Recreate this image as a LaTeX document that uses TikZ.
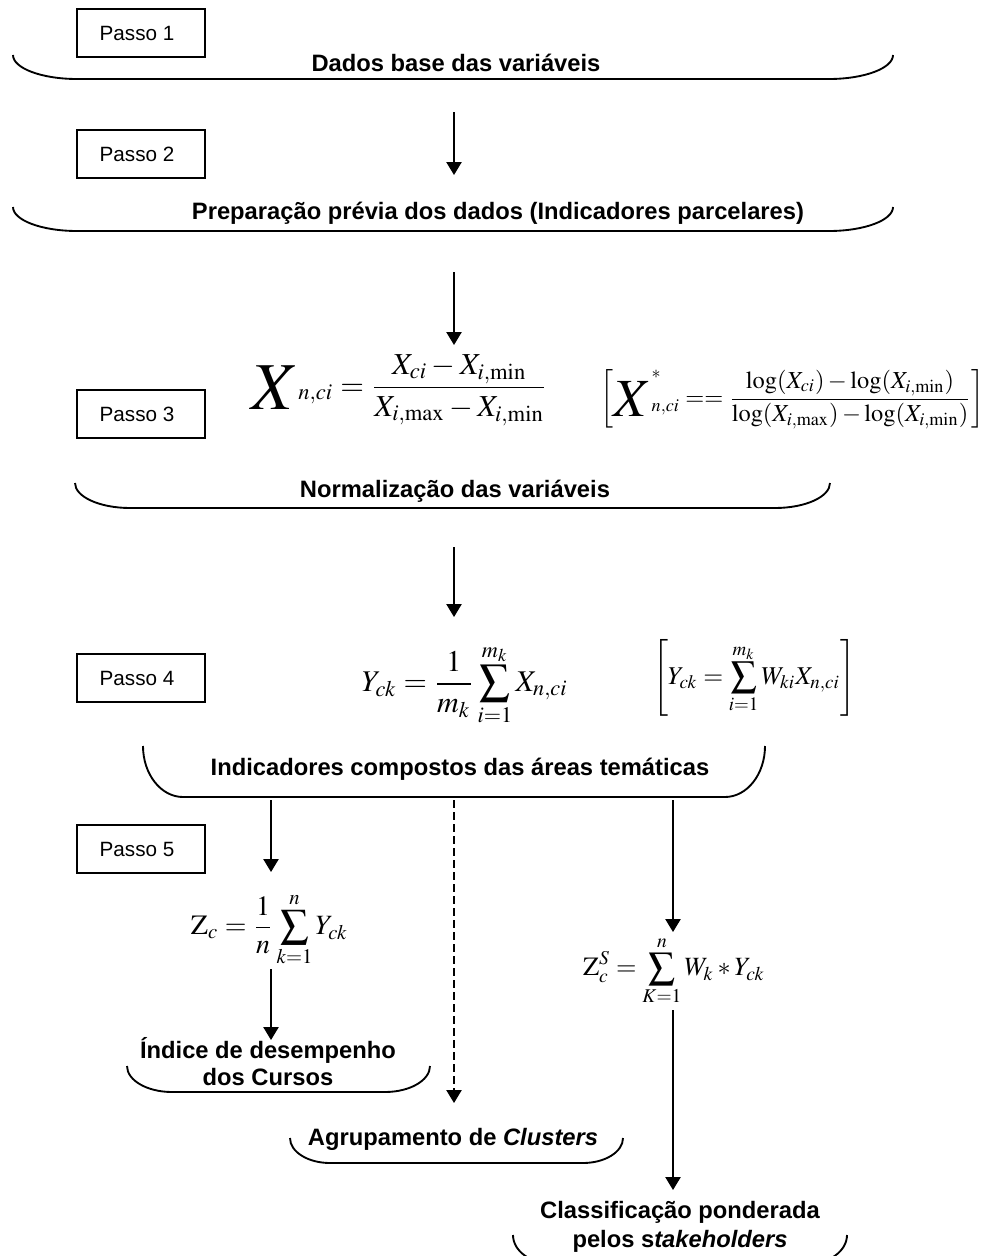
\documentclass[tikz,border=0pt]{standalone}
\usepackage{mathptmx}
\usepackage[no-math]{fontspec}
\usepackage{graphicx}
\usetikzlibrary{arrows.meta}
\newfontfamily\arialfont{Liberation Sans}
\newcommand{\ubrace}[5]{% x1, x2, ytop, ybot, rx
  \draw[bracestyle] (#1,#3) .. controls (#1,{#3+0.552*(#4-#3)}) and ({#1+0.448*#5},#4) .. ({#1+#5},#4)
    -- ({#2-#5},#4) .. controls ({#2-0.448*#5},#4) and (#2,{#3+0.552*(#4-#3)}) .. (#2,#3);}
\newcommand{\bigX}{\raisebox{-4.5pt}{\fontsize{22}{22}\selectfont$X$}}
\begin{document}
\begin{tikzpicture}[x=0.75pt,y=-0.75pt,
  pbox/.style={draw, line width=1.3pt, minimum width=96pt, minimum height=36pt, inner sep=0pt, font=\arialfont\fontsize{15.5}{18}\selectfont},
  lbl/.style={font=\arialfont\bfseries\fontsize{17.8}{21}\selectfont, inner sep=0pt, anchor=base},
  bracestyle/.style={line width=1.4pt},
  arr/.style={line width=1.1pt, -{Triangle[length=9.75pt,width=11.5pt]}},
  formula/.style={inner sep=0pt}]
\path[use as bounding box] (0,0) rectangle (996,1256);
\clip (0,0) rectangle (996,1256);

% Passo boxes
\node[pbox] (p1) at (141,33) {Passo 1\hspace*{6pt}};
\node[pbox] (p2) at (141,154) {Passo 2\hspace*{6pt}};
\node[pbox] (p3) at (141,414) {Passo 3\hspace*{6pt}};
\node[pbox] (p4) at (141,678) {Passo 4\hspace*{6pt}};
\node[pbox] (p5) at (141,849) {Passo 5\hspace*{6pt}};

% braces
\ubrace{13}{893}{55}{79}{64}
\ubrace{13}{893}{207}{231}{64}
\ubrace{75}{830}{483}{508}{55}
\ubrace{143}{765}{746}{797}{40}
\ubrace{127}{430}{1066}{1092}{45}
\ubrace{290}{623}{1138}{1163}{40}
\ubrace{513}{847}{1235}{1264}{40}

% labels
\node[lbl] (t1) at (456,72) {Dados base das variáveis};
\node[lbl] (t2) at (498,219) {Preparação prévia dos dados (Indicadores parcelares)};
\node[lbl] (t3) at (455,497) {Normalização das variáveis};
\node[lbl] (t4) at (460,775) {Indicadores compostos das áreas temáticas};
\node[lbl] (t5a) at (268,1058) {Índice de desempenho};
\node[lbl] (t5b) at (268,1085) {dos Cursos};
\node[lbl] (t6) at (453,1145) {Agrupamento de \itshape Clusters};
\node[lbl] (t7a) at (680,1218) {Classificação ponderada};
\node[lbl] (t7b) at (680,1247) {pelos s\itshape takeholders};

% formulas
\node[formula] (f1) at (399.5,390) {\resizebox{222.75pt}{!}{$\displaystyle \bigX{}_{n,ci}=\frac{X_{ci}-X_{i,\mathrm{min}}}{X_{i,\mathrm{max}}-X_{i,\mathrm{min}}}$}};
\node[formula] (f2) at (792.5,399.5) {\resizebox{287.25pt}{!}{$\displaystyle \left[\bigX{}^{\raisebox{7pt}{$\scriptstyle *$}}_{n,ci}==\frac{\log(X_{ci})-\log(X_{i,\mathrm{min}})}{\log(X_{i,\mathrm{max}})-\log(X_{i,\mathrm{min}})}\right]$}};
\node[formula] (y1) at (465,685) {\resizebox{154.5pt}{!}{$\displaystyle Y_{ck}=\frac{1}{m_k}\sum_{i=1}^{m_k}X_{n,ci}$}};
\node[formula] (y2) at (754,678) {\resizebox{151.5pt}{!}{$\displaystyle \left[Y_{ck}=\sum_{i=1}^{m_k}W_{ki}X_{n,ci}\right]$}};
\node[formula] (zc) at (269.5,930) {\resizebox{117.75pt}{!}{$\displaystyle \mathrm{Z}_c=\frac{1}{n}\sum_{k=1}^{n}Y_{ck}$}};
\node[formula] (zs) at (674,971) {\resizebox{136.5pt}{!}{$\displaystyle \mathrm{Z}_c^S=\sum_{K=1}^{n}W_k*Y_{ck}$}};

% arrow end points
\coordinate (a1s) at (454,112); \coordinate (a1e) at (454,175);
\coordinate (a2s) at (454,272); \coordinate (a2e) at (454,345);
\coordinate (a3s) at (454,547); \coordinate (a3e) at (454,617);
\coordinate (a4s) at (271,800); \coordinate (a4e) at (271,872);
\coordinate (a5s) at (454,800); \coordinate (a5e) at (454,1103);
\coordinate (a6s) at (673,800); \coordinate (a6e) at (673,932);
\coordinate (a7s) at (271,969); \coordinate (a7e) at (271,1040);
\coordinate (a8s) at (673,1010); \coordinate (a8e) at (673,1190);

\draw[arr] (a1s) -- (a1e);
\draw[arr] (a2s) -- (a2e);
\draw[arr] (a3s) -- (a3e);
\draw[arr] (a4s) -- (a4e);
\draw[arr, dash pattern=on 6pt off 3pt] (a5s) -- (a5e);
\draw[arr] (a6s) -- (a6e);
\draw[arr] (a7s) -- (a7e);
\draw[arr] (a8s) -- (a8e);
\end{tikzpicture}
\end{document}
